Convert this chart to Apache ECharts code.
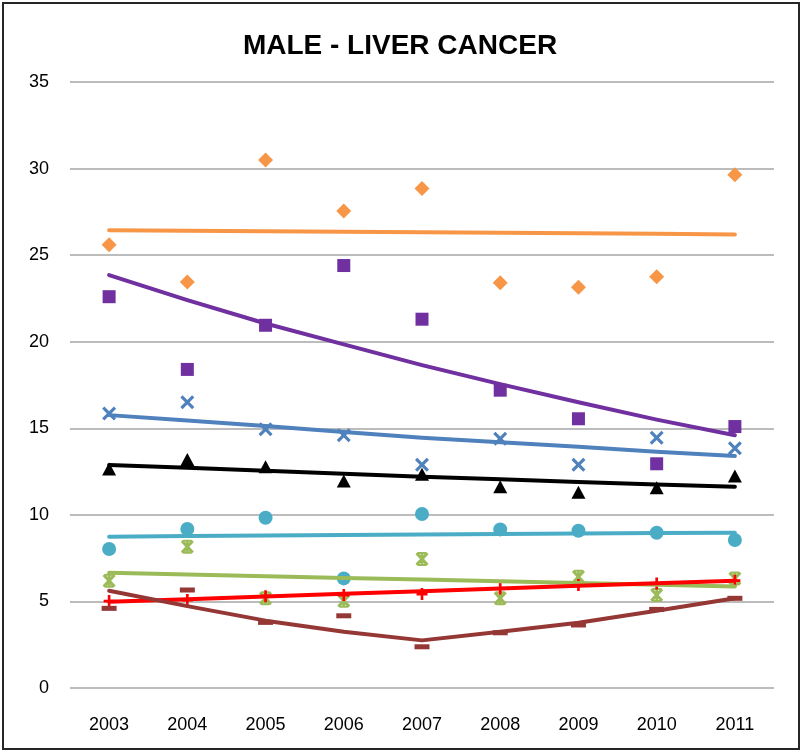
<!DOCTYPE html>
<html>
<head>
<meta charset="utf-8">
<script src="https://cdn.jsdelivr.net/npm/echarts@6/dist/echarts.min.js"></script>
<style>
html,body{margin:0;padding:0;background:#fff;}
#wrap{position:absolute;left:2px;top:2px;width:794px;height:744px;border:2px solid #262626;}
#chart{position:absolute;left:-4px;top:-4px;width:800px;height:751px;}
</style>
</head>
<body>
<div id="wrap"><div id="chart"></div></div>
<script>
const years = ['2003','2004','2005','2006','2007','2008','2009','2010','2011'];
const yTicks = [0,5,10,15,20,25,30,35];

const orangePts   = [25.6, 23.45, 30.5, 27.55, 28.85, 23.4, 23.15, 23.75, 29.65];
const orangeTrend = [26.44, 26.41, 26.38, 26.35, 26.32, 26.29, 26.26, 26.23, 26.19];
const purplePts   = [22.6, 18.4, 20.95, 24.4, 21.3, 17.2, 15.55, 12.95, 15.1];
const purpleTrend = [23.85, 22.4, 21.05, 19.85, 18.65, 17.55, 16.5, 15.5, 14.6];
const bluePts     = [15.85, 16.5, 14.95, 14.6, 12.9, 14.4, 12.9, 14.45, 13.85];
const blueTrend   = [15.76, 15.45, 15.13, 14.78, 14.45, 14.2, 13.93, 13.65, 13.4];
const blackPts    = [12.65, 13.2, 12.78, 11.95, 12.35, 11.62, 11.3, 11.57, 12.25];
const blackTrend  = [12.88, 12.72, 12.55, 12.38, 12.2, 12.05, 11.9, 11.76, 11.62];
const tealPts     = [8.03, 9.18, 9.83, 6.33, 10.05, 9.16, 9.08, 8.97, 8.55];
const tealTrend   = [8.74, 8.78, 8.81, 8.84, 8.87, 8.9, 8.92, 8.95, 8.97];
const greenPts    = [6.2, 8.16, 5.18, 5.04, 7.45, 5.18, 6.43, 5.37, 6.33];
const greenTrend  = [6.66, 6.56, 6.46, 6.36, 6.26, 6.16, 6.06, 5.96, 5.86];
const redPts      = [5.02, 5.08, 5.3, 5.37, 5.43, 5.75, 5.95, 6.04, 6.2];
const redTrend    = [4.98, 5.13, 5.29, 5.44, 5.59, 5.74, 5.9, 6.05, 6.2];
const brownPts    = [4.6, 5.66, 3.79, 4.17, 2.38, 3.19, 3.64, 4.54, 5.18];
const brownTrend  = [5.62, 4.73, 3.89, 3.25, 2.75, 3.25, 3.77, 4.46, 5.18];

const X_PATH = 'path://M1.6,0 L5,3.4 L8.4,0 L10,1.6 L6.6,5 L10,8.4 L8.4,10 L5,6.6 L1.6,10 L0,8.4 L3.4,5 L0,1.6 Z';
const STAR_PATH = 'path://M1.6,0 L5,3.4 L8.4,0 L10,1.6 L6.6,5 L10,8.4 L8.4,10 L5,6.6 L1.6,10 L0,8.4 L3.4,5 L0,1.6 Z M4,0 L6,0 L6,10 L4,10 Z M2,0 L8,0 L8,1.5 L2,1.5 Z M2,8.5 L8,8.5 L8,10 L2,10 Z';
const PLUS_PATH = 'path://M3.8,0 L6.2,0 L6.2,3.8 L10,3.8 L10,6.2 L6.2,6.2 L6.2,10 L3.8,10 L3.8,6.2 L0,6.2 L0,3.8 L3.8,3.8 Z';

function pts(data, color, symbol, size) {
  return {type:'scatter', data:data, symbol:symbol, symbolSize:size, itemStyle:{color:color, opacity:1}, z:2, silent:true};
}
function trend(data, color) {
  return {type:'line', data:data, showSymbol:false, smooth:false, lineStyle:{color:color, width:4, cap:'round', join:'round'}, z:3, silent:true};
}

const chart = echarts.init(document.getElementById('chart'), null, {renderer:'canvas'});
chart.setOption({
  animation:false,
  backgroundColor:'transparent',
  title:{text:'MALE - LIVER CANCER', left:'center', top:27,
    textStyle:{fontFamily:'"Liberation Sans Narrow","Liberation Sans",sans-serif', fontWeight:'bold', fontSize:28, color:'#000'}},
  grid:{left:70, right:26, top:82, bottom:63},
  xAxis:{type:'category', data:years, boundaryGap:true,
    axisLine:{show:false}, axisTick:{show:false},
    axisLabel:{fontFamily:'"Liberation Sans",sans-serif', fontSize:18, color:'#000', margin:28}},
  yAxis:{type:'value', min:0, max:35, interval:5,
    axisLine:{show:false}, axisTick:{show:false},
    axisLabel:{fontFamily:'"Liberation Sans",sans-serif', fontSize:18, color:'#000', margin:21,
      formatter:function(v){return yTicks.indexOf(v)>=0 ? String(v) : '';}},
    splitLine:{lineStyle:{color:'#A6A6A6', width:1.5}}},
  series:[
    pts(orangePts,'#F79646','diamond',[15,15]),
    pts(purplePts,'#7030A0','rect',[13,13]),
    pts(bluePts,'#4F81BD',X_PATH,[14,14]),
    pts(blackPts,'#000000','triangle',[14,13]),
    pts(tealPts,'#4BACC6','circle',14),
    pts(greenPts,'#9BBB59',STAR_PATH,[13,14]),
    pts(redPts,'#FF0000',PLUS_PATH,[11,12]),
    pts(brownPts,'#953735','rect',[15,5]),
    trend(orangeTrend,'#F79646'),
    trend(purpleTrend,'#7030A0'),
    trend(blueTrend,'#4F81BD'),
    trend(blackTrend,'#000000'),
    trend(tealTrend,'#4BACC6'),
    trend(greenTrend,'#9BBB59'),
    trend(redTrend,'#FF0000'),
    trend(brownTrend,'#953735')
  ]
});
</script>
</body>
</html>
